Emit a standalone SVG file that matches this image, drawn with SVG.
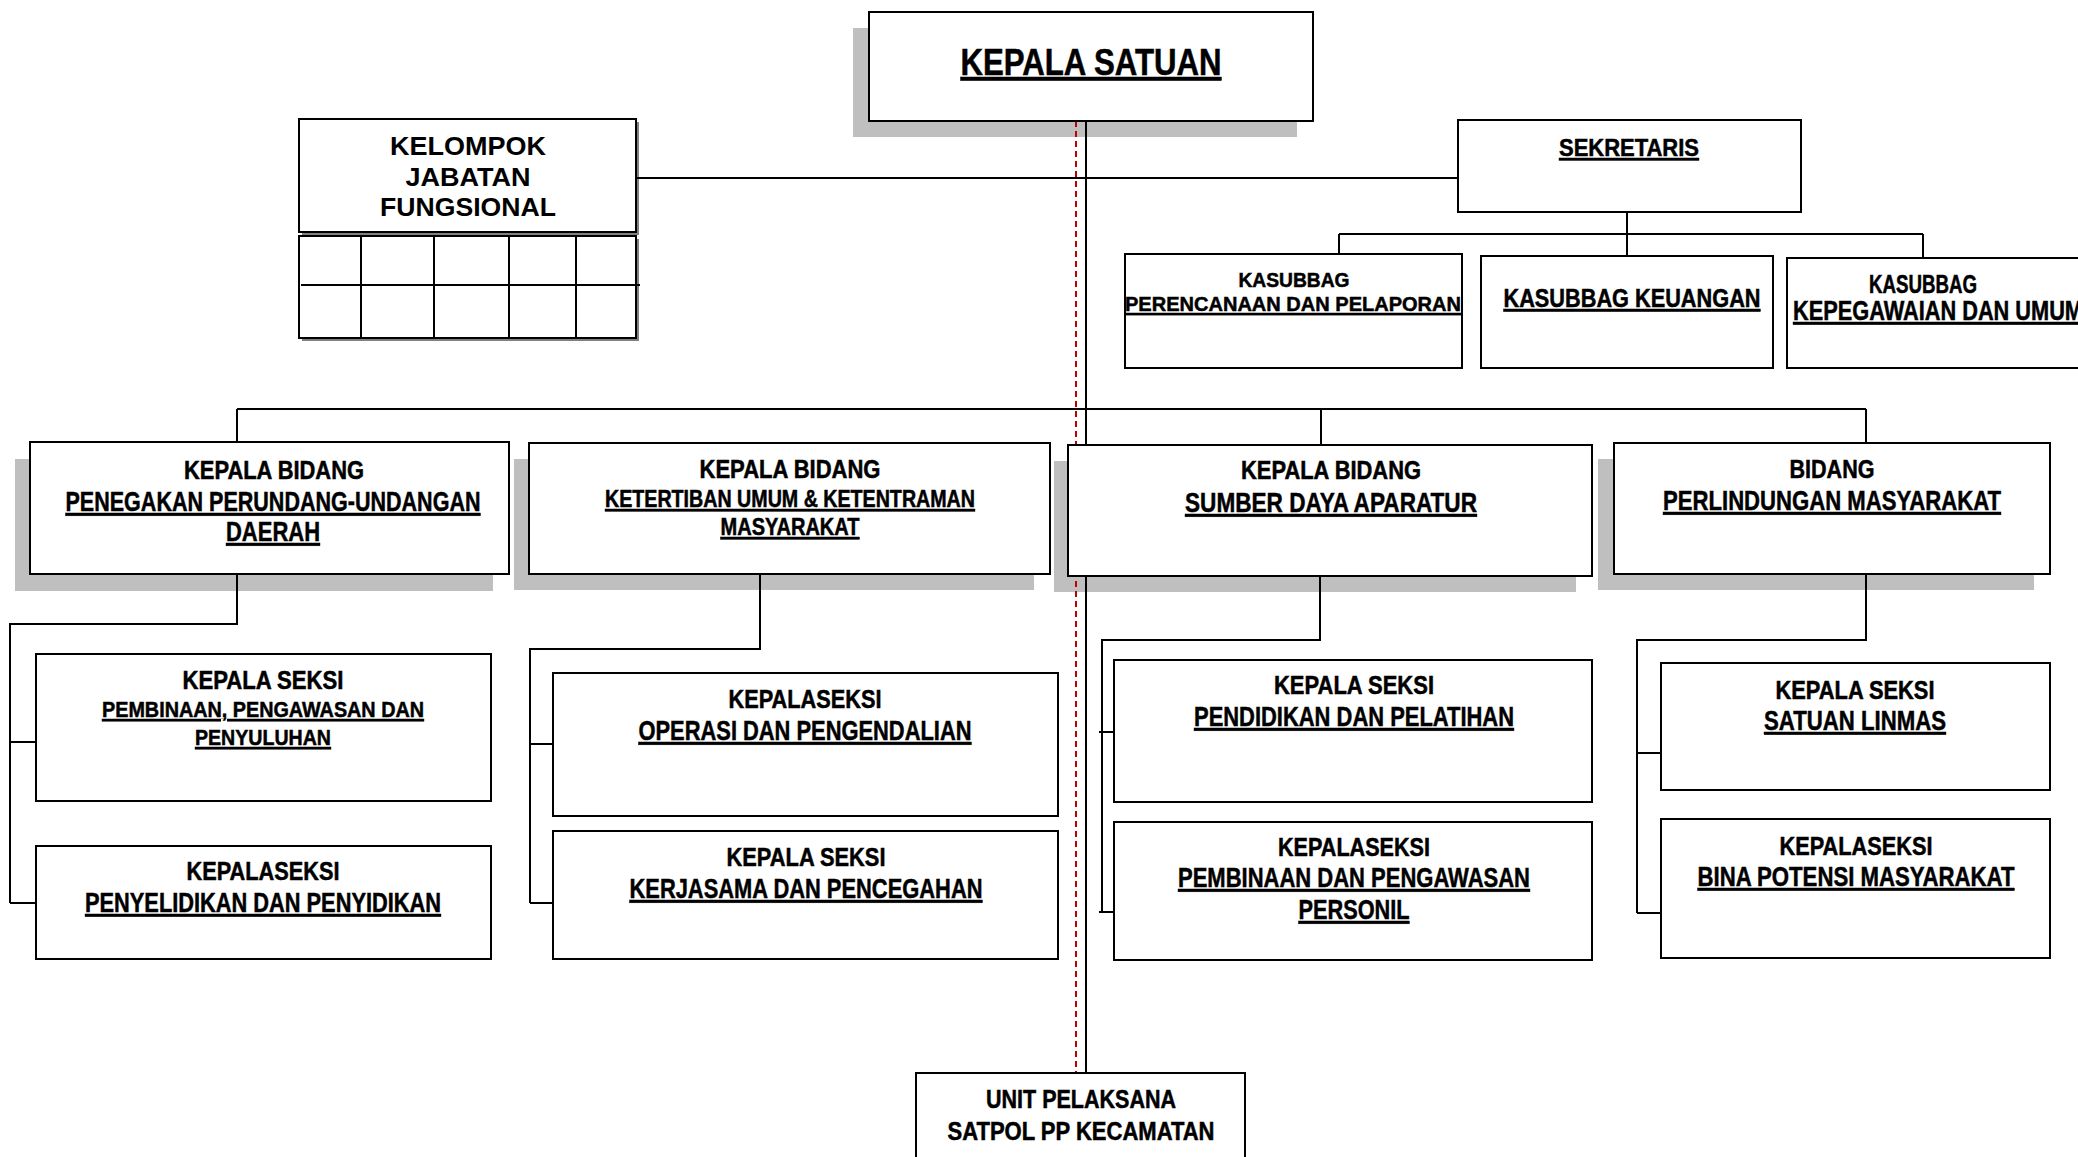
<svg xmlns="http://www.w3.org/2000/svg" width="2078" height="1157" viewBox="0 0 2078 1157">
<style>
.box{fill:#fff;stroke:#000;stroke-width:2}
.sh{fill:#bfbfbf}
.sh2{fill:#808080}
.ln{stroke:#000;stroke-width:2;fill:none}
.red{stroke:#c00000;stroke-width:2;stroke-dasharray:6 4;fill:none}
text{font-family:"Liberation Sans Narrow","Liberation Sans",Arial,sans-serif;font-weight:bold;text-anchor:middle;fill:#000;stroke:#000;stroke-width:0.5}
.w{font-family:"Liberation Sans",Arial,sans-serif;stroke:none}
.u{text-decoration:underline}
.st{text-anchor:start}
</style>
<rect width="2078" height="1157" fill="#fff"/>
<g id="shadows">
<rect class="sh" x="853" y="28" width="444" height="109"/>
<rect class="sh2" x="302" y="122" width="337" height="113"/>
<rect class="sh2" x="302" y="239" width="337" height="102"/>
<rect class="sh" x="15" y="459" width="478" height="132"/>
<rect class="sh" x="514" y="459" width="520" height="131"/>
<rect class="sh" x="1054" y="461" width="522" height="131"/>
<rect class="sh" x="1598" y="459" width="436" height="131"/>
</g>
<g id="connectors">
<path class="red" d="M1076 121V1073"/>
<path class="ln" d="M1086 121V1073"/>
<path class="ln" d="M637 178H1458"/>
<path class="ln" d="M1627 212V265M1339 234H1923M1339 234V262M1923 234V267"/>
<path class="ln" d="M237 409H1866M237 409V442M1321 409V445M1866 409V443"/>
<path class="ln" d="M237 574V624H10V903M10 742H36M10 903H36"/>
<path class="ln" d="M760 574V649H530V903M530 744H553M530 903H553"/>
<path class="ln" d="M1320 576V640H1102V912M1099 732H1114M1099 912H1114"/>
<path class="ln" d="M1866 574V640H1637V913M1637 753H1661M1637 913H1661"/>
</g>
<g id="kepala-satuan">
<rect class="box" x="869" y="12" width="444" height="109"/>
<text class="u" x="1091" y="75" font-size="36" textLength="261" lengthAdjust="spacingAndGlyphs">KEPALA SATUAN</text>
</g>
<g id="kelompok-jabatan-fungsional">
<rect class="box" x="299" y="119" width="337" height="113"/>
<text class="w" x="468" y="155" font-size="26" textLength="156" lengthAdjust="spacingAndGlyphs">KELOMPOK</text>
<text class="w" x="468" y="186" font-size="26" textLength="125" lengthAdjust="spacingAndGlyphs">JABATAN</text>
<text class="w" x="468" y="216" font-size="26" textLength="176" lengthAdjust="spacingAndGlyphs">FUNGSIONAL</text>
<rect class="box" x="299" y="236" width="337" height="102"/>
<path class="ln" d="M361 236V338M434 236V338M509 236V338M576 236V338M301 285H640"/>
</g>
<g id="sekretaris">
<rect class="box" x="1458" y="120" width="343" height="92"/>
<text class="u" x="1629" y="156" font-size="24" textLength="140" lengthAdjust="spacingAndGlyphs">SEKRETARIS</text>
</g>
<g id="kasubbag-perencanaan">
<rect class="box" x="1125" y="254" width="337" height="114"/>
<text x="1294" y="287" font-size="20" textLength="111" lengthAdjust="spacingAndGlyphs">KASUBBAG</text>
<text class="u" x="1293" y="311" font-size="21" textLength="336" lengthAdjust="spacingAndGlyphs">PERENCANAAN DAN PELAPORAN</text>
</g>
<g id="kasubbag-keuangan">
<rect class="box" x="1481" y="256" width="292" height="112"/>
<text class="u" x="1632" y="307" font-size="26" textLength="257" lengthAdjust="spacingAndGlyphs">KASUBBAG KEUANGAN</text>
</g>
<g id="kasubbag-kepegawaian">
<rect class="box" x="1787" y="258" width="320" height="110"/>
<text x="1923" y="293" font-size="25" textLength="108" lengthAdjust="spacingAndGlyphs">KASUBBAG</text>
<text class="u st" x="1793" y="320" font-size="27" textLength="290" lengthAdjust="spacingAndGlyphs">KEPEGAWAIAN DAN UMUM</text>
</g>
<g id="bidang-penegakan">
<rect class="box" x="30" y="442" width="479" height="132"/>
<text x="274" y="479" font-size="25" textLength="180" lengthAdjust="spacingAndGlyphs">KEPALA BIDANG</text>
<text class="u" x="273" y="511" font-size="28" textLength="415" lengthAdjust="spacingAndGlyphs">PENEGAKAN PERUNDANG-UNDANGAN</text>
<text class="u" x="273" y="541" font-size="28" textLength="94" lengthAdjust="spacingAndGlyphs">DAERAH</text>
</g>
<g id="bidang-ketertiban">
<rect class="box" x="529" y="443" width="521" height="131"/>
<text x="790" y="478" font-size="25" textLength="181" lengthAdjust="spacingAndGlyphs">KEPALA BIDANG</text>
<text class="u" x="790" y="507" font-size="23" textLength="370" lengthAdjust="spacingAndGlyphs">KETERTIBAN UMUM &amp; KETENTRAMAN</text>
<text class="u" x="790" y="535" font-size="23" textLength="139" lengthAdjust="spacingAndGlyphs">MASYARAKAT</text>
</g>
<g id="bidang-sumber-daya">
<rect class="box" x="1068" y="445" width="524" height="131"/>
<text x="1331" y="479" font-size="25" textLength="180" lengthAdjust="spacingAndGlyphs">KEPALA BIDANG</text>
<text class="u" x="1331" y="512" font-size="28" textLength="292" lengthAdjust="spacingAndGlyphs">SUMBER DAYA APARATUR</text>
</g>
<g id="bidang-perlindungan">
<rect class="box" x="1614" y="443" width="436" height="131"/>
<text x="1832" y="478" font-size="25" textLength="85" lengthAdjust="spacingAndGlyphs">BIDANG</text>
<text class="u" x="1832" y="510" font-size="28" textLength="338" lengthAdjust="spacingAndGlyphs">PERLINDUNGAN MASYARAKAT</text>
</g>
<g id="seksi-pembinaan">
<rect class="box" x="36" y="654" width="455" height="147"/>
<text x="263" y="689" font-size="25" textLength="161" lengthAdjust="spacingAndGlyphs">KEPALA SEKSI</text>
<text class="u" x="263" y="717" font-size="22" textLength="322" lengthAdjust="spacingAndGlyphs">PEMBINAAN, PENGAWASAN DAN</text>
<text class="u" x="263" y="745" font-size="22" textLength="136" lengthAdjust="spacingAndGlyphs">PENYULUHAN</text>
</g>
<g id="seksi-penyelidikan">
<rect class="box" x="36" y="846" width="455" height="113"/>
<text x="263" y="880" font-size="26" textLength="153" lengthAdjust="spacingAndGlyphs">KEPALASEKSI</text>
<text class="u" x="263" y="912" font-size="27" textLength="356" lengthAdjust="spacingAndGlyphs">PENYELIDIKAN DAN PENYIDIKAN</text>
</g>
<g id="seksi-operasi">
<rect class="box" x="553" y="673" width="505" height="143"/>
<text x="805" y="708" font-size="26" textLength="153" lengthAdjust="spacingAndGlyphs">KEPALASEKSI</text>
<text class="u" x="805" y="740" font-size="28" textLength="333" lengthAdjust="spacingAndGlyphs">OPERASI DAN PENGENDALIAN</text>
</g>
<g id="seksi-kerjasama">
<rect class="box" x="553" y="831" width="505" height="128"/>
<text x="806" y="866" font-size="26" textLength="159" lengthAdjust="spacingAndGlyphs">KEPALA SEKSI</text>
<text class="u" x="806" y="898" font-size="28" textLength="353" lengthAdjust="spacingAndGlyphs">KERJASAMA DAN PENCEGAHAN</text>
</g>
<g id="seksi-pendidikan">
<rect class="box" x="1114" y="660" width="478" height="142"/>
<text x="1354" y="694" font-size="25" textLength="160" lengthAdjust="spacingAndGlyphs">KEPALA SEKSI</text>
<text class="u" x="1354" y="726" font-size="28" textLength="320" lengthAdjust="spacingAndGlyphs">PENDIDIKAN DAN PELATIHAN</text>
</g>
<g id="seksi-pembinaan-personil">
<rect class="box" x="1114" y="822" width="478" height="138"/>
<text x="1354" y="856" font-size="26" textLength="152" lengthAdjust="spacingAndGlyphs">KEPALASEKSI</text>
<text class="u" x="1354" y="887" font-size="28" textLength="352" lengthAdjust="spacingAndGlyphs">PEMBINAAN DAN PENGAWASAN</text>
<text class="u" x="1354" y="919" font-size="28" textLength="111" lengthAdjust="spacingAndGlyphs">PERSONIL</text>
</g>
<g id="seksi-linmas">
<rect class="box" x="1661" y="663" width="389" height="127"/>
<text x="1855" y="699" font-size="25" textLength="159" lengthAdjust="spacingAndGlyphs">KEPALA SEKSI</text>
<text class="u" x="1855" y="730" font-size="27" textLength="182" lengthAdjust="spacingAndGlyphs">SATUAN LINMAS</text>
</g>
<g id="seksi-bina-potensi">
<rect class="box" x="1661" y="819" width="389" height="139"/>
<text x="1856" y="855" font-size="26" textLength="153" lengthAdjust="spacingAndGlyphs">KEPALASEKSI</text>
<text class="u" x="1856" y="886" font-size="27" textLength="317" lengthAdjust="spacingAndGlyphs">BINA POTENSI MASYARAKAT</text>
</g>
<g id="unit-pelaksana">
<rect class="box" x="916" y="1073" width="329" height="100"/>
<text x="1081" y="1108" font-size="25" textLength="190" lengthAdjust="spacingAndGlyphs">UNIT PELAKSANA</text>
<text x="1081" y="1140" font-size="25" textLength="267" lengthAdjust="spacingAndGlyphs">SATPOL PP KECAMATAN</text>
</g>
</svg>
